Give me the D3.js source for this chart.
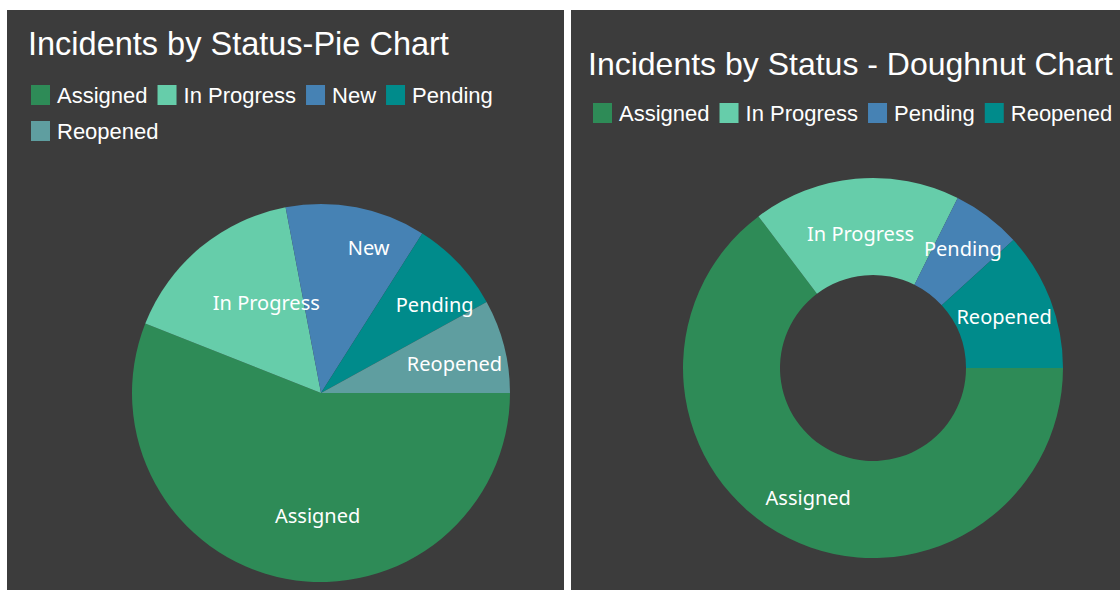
<!DOCTYPE html>
<html>
<head>
<meta charset="utf-8">
<script src="https://cdn.jsdelivr.net/npm/d3@7"></script>
<style>
  html, body { margin: 0; padding: 0; background: #ffffff; }
  svg { display: block; }
</style>
</head>
<body>
<svg id="chart" width="1120" height="590"></svg>
<script>
// Incident counts by status
const pieCategories = ["Assigned", "In Progress", "New", "Pending", "Reopened"];
const pieValues = [14, 4, 3, 2, 2];

const doughnutCategories = ["Assigned", "In Progress", "Pending", "Reopened"];
const doughnutValues = [11, 3, 1, 2];

const pieTitle = "Incidents by Status-Pie Chart";
const doughnutTitle = "Incidents by Status - Doughnut Chart";

// SeaGreen palette, applied by point index
const palette = ["#2E8B57", "#66CDAA", "#4682B4", "#008B8B", "#5F9EA0"];

// Inside-label radius as a fraction of the outer radius, per slice
const pieLabelRadius = [0.66, 0.62, 0.78, 0.68, 0.62];
const doughnutLabelRadius = [0.765, 0.71, 0.785, 0.74];

const svg = d3.select("#chart");
const panelFill = "#3c3c3c";
const titleFont = "'Liberation Sans', Arial, sans-serif";
const labelFont = "'Noto Sans', 'Open Sans', sans-serif";

function panel(x, y, w, h) {
  svg.append("rect").attr("x", x).attr("y", y).attr("width", w).attr("height", h).attr("fill", panelFill);
}

function legend(g, cats, maxWidth) {
  const box = 19, gapText = 7, gapItem = 10, rowH = 36;
  let x = 0, y = 0;
  cats.forEach((c, i) => {
    const item = g.append("g");
    item.append("rect").attr("width", box).attr("height", box + 1).attr("fill", palette[i % palette.length]);
    const t = item.append("text")
      .attr("x", box + gapText).attr("y", 18)
      .attr("font-family", titleFont).attr("font-size", 22)
      .attr("fill", "#ffffff").text(c);
    const w = box + gapText + t.node().getComputedTextLength();
    if (x > 0 && x + w > maxWidth) { x = 0; y += rowH; }
    item.attr("transform", `translate(${x},${y})`);
    x += w + gapItem;
  });
}

function drawChart(opts) {
  const g = svg.append("g");
  g.append("text").attr("x", opts.titleX).attr("y", opts.titleY)
    .attr("font-family", titleFont).attr("font-size", opts.titleSize).attr("fill", "#ffffff")
    .text(opts.title);
  legend(g.append("g").attr("transform", `translate(${opts.legendX},${opts.legendY})`), opts.cats, opts.legendWidth);

  const pie = d3.pie().sort(null).value(d => d.v)
    .startAngle(Math.PI / 2).endAngle(Math.PI / 2 + 2 * Math.PI);
  const arcs = pie(opts.cats.map((c, i) => ({ c, v: opts.values[i], i })));
  const arc = d3.arc().innerRadius(opts.inner).outerRadius(opts.radius);
  const center = g.append("g").attr("transform", `translate(${opts.cx},${opts.cy})`);
  center.selectAll("path").data(arcs).join("path")
    .attr("d", arc).attr("fill", d => palette[d.index % palette.length]);

  center.selectAll("text.lbl").data(arcs).join("text").attr("class", "lbl")
    .attr("transform", d => {
      const a = (d.startAngle + d.endAngle) / 2;
      const r = opts.radius * opts.labelRadius[d.index];
      return `translate(${opts.labelShift + r * Math.sin(a)},${-r * Math.cos(a)})`;
    })
    .attr("text-anchor", "middle").attr("dy", "0.35em")
    .attr("font-family", labelFont).attr("font-size", 20).attr("fill", "#ffffff")
    .text(d => d.data.c);
}

// White page with two dark panels
panel(7, 10, 557, 580);
panel(571, 10, 549, 580);

drawChart({
  title: pieTitle, titleX: 28, titleY: 55, titleSize: 32.5,
  cats: pieCategories, values: pieValues,
  legendX: 31, legendY: 85, legendWidth: 520,
  cx: 321, cy: 393, radius: 189, inner: 0,
  labelShift: 20, labelRadius: pieLabelRadius
});

drawChart({
  title: doughnutTitle, titleX: 588, titleY: 75, titleSize: 32,
  cats: doughnutCategories, values: doughnutValues,
  legendX: 593, legendY: 103, legendWidth: 560,
  cx: 873, cy: 368, radius: 190, inner: 93,
  labelShift: 0, labelRadius: doughnutLabelRadius
});
</script>
</body>
</html>
